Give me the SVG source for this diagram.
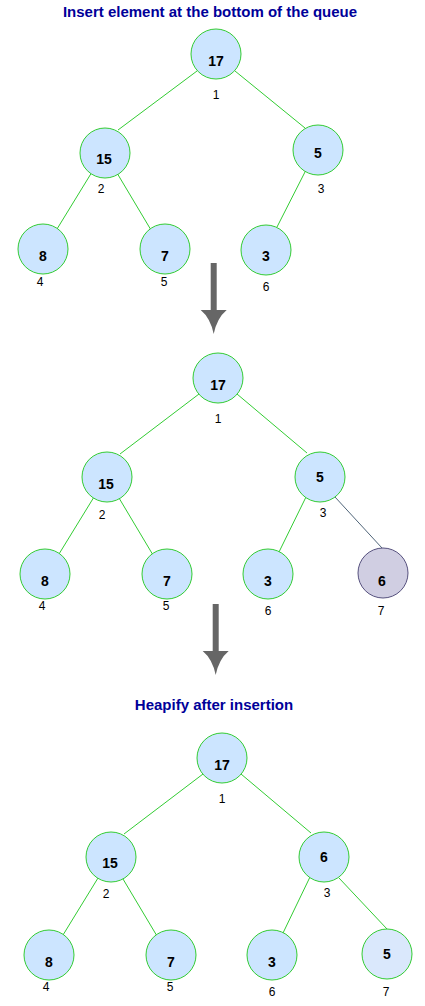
<svg xmlns="http://www.w3.org/2000/svg" width="425" height="1006" viewBox="0 0 425 1006">
<style>
.n{fill:#cce5ff;stroke:#33cc33;stroke-width:1}
.n2{fill:#dae8fc;stroke:#33cc33;stroke-width:1}
.p{fill:#d0cee2;stroke:#56517e;stroke-width:1}
.t{font-family:"Liberation Sans",Arial,sans-serif;font-size:14px;font-weight:bold;fill:#000;text-anchor:middle;dominant-baseline:central}
.l{font-family:"Liberation Sans",Arial,sans-serif;font-size:12px;fill:#000;text-anchor:middle;dominant-baseline:central}
.h{font-family:"Liberation Sans",Arial,sans-serif;font-size:15px;font-weight:bold;fill:#000099;text-anchor:middle;dominant-baseline:central}
.e{stroke:#33cc33;stroke-width:1;fill:none}
.e2{stroke:#4f6478;stroke-width:1;fill:none}
.a{fill:#666666;stroke:none}
</style>
<text class="h" x="210" y="11">Insert element at the bottom of the queue</text>
<text class="h" x="214" y="704">Heapify after insertion</text>
<g id="connectors">
<line class="e" x1="197" y1="71" x2="118" y2="130"/>
<line class="e" x1="235" y1="71" x2="305" y2="128"/>
<line class="e" x1="92" y1="172" x2="57" y2="229"/>
<line class="e" x1="117" y1="173" x2="151" y2="230"/>
<line class="e" x1="306" y1="170" x2="277" y2="227"/>
<line class="e" x1="199" y1="394" x2="120" y2="454"/>
<line class="e" x1="237" y1="394" x2="307" y2="453"/>
<line class="e" x1="94" y1="497" x2="59" y2="554"/>
<line class="e" x1="119" y1="498" x2="153" y2="555"/>
<line class="e" x1="306" y1="497" x2="279" y2="552"/>
<line class="e2" x1="335" y1="497" x2="382" y2="548"/>
<line class="e" x1="203" y1="774" x2="124" y2="834"/>
<line class="e" x1="241" y1="774" x2="311" y2="833"/>
<line class="e" x1="98" y1="878" x2="63" y2="935"/>
<line class="e" x1="123" y1="879" x2="157" y2="936"/>
<line class="e" x1="310" y1="877" x2="283" y2="933"/>
<line class="e" x1="339" y1="878" x2="387" y2="929"/>
</g>
<g id="arrow1"><path class="a" d="M210.7,263 H216.7 V310 L226.7,310 Q217,318 213.7,334 Q210.4,318 200.7,310 L210.7,310 Z"/></g>
<g id="arrow2"><path class="a" d="M212.7,604 H218.7 V651 L228.7,651 Q219,659 215.7,675 Q212.4,659 202.7,651 L212.7,651 Z"/></g>
<g id="t1n17"><circle class="n" cx="216" cy="54" r="25"/><text class="t" x="216" y="61">17</text><text class="l" x="216" y="95">1</text></g>
<g id="t1n15"><circle class="n" cx="105" cy="153" r="25"/><text class="t" x="104" y="159">15</text><text class="l" x="101" y="189">2</text></g>
<g id="t1n5"><circle class="n" cx="318" cy="150" r="25"/><text class="t" x="318" y="153">5</text><text class="l" x="321" y="189">3</text></g>
<g id="t1n8"><circle class="n" cx="43" cy="249" r="25"/><text class="t" x="43" y="256">8</text><text class="l" x="40" y="282">4</text></g>
<g id="t1n7"><circle class="n" cx="165" cy="249" r="25"/><text class="t" x="165" y="256">7</text><text class="l" x="164" y="282">5</text></g>
<g id="t1n3"><circle class="n" cx="266" cy="250" r="25"/><text class="t" x="266" y="256">3</text><text class="l" x="266" y="287">6</text></g>
<g id="t2n17"><circle class="n" cx="218" cy="378" r="25"/><text class="t" x="218" y="385">17</text><text class="l" x="218" y="419">1</text></g>
<g id="t2n15"><circle class="n" cx="107" cy="477" r="25"/><text class="t" x="106" y="484">15</text><text class="l" x="102" y="515">2</text></g>
<g id="t2n5"><circle class="n" cx="320" cy="477" r="25"/><text class="t" x="320" y="477">5</text><text class="l" x="323" y="513">3</text></g>
<g id="t2n8"><circle class="n" cx="45" cy="574" r="25"/><text class="t" x="45" y="581">8</text><text class="l" x="42" y="606">4</text></g>
<g id="t2n7"><circle class="n" cx="167" cy="574" r="25"/><text class="t" x="167" y="581">7</text><text class="l" x="166" y="606">5</text></g>
<g id="t2n3"><circle class="n" cx="268" cy="574" r="25"/><text class="t" x="268" y="581">3</text><text class="l" x="268" y="611">6</text></g>
<g id="t2n6"><circle class="p" cx="383" cy="573" r="25"/><text class="t" x="382" y="581">6</text><text class="l" x="381" y="611">7</text></g>
<g id="t3n17"><circle class="n" cx="222" cy="758" r="25"/><text class="t" x="222" y="765">17</text><text class="l" x="222" y="799">1</text></g>
<g id="t3n15"><circle class="n" cx="111" cy="857" r="25"/><text class="t" x="110" y="863">15</text><text class="l" x="106" y="894">2</text></g>
<g id="t3n6"><circle class="n" cx="324" cy="857" r="25"/><text class="t" x="324" y="857">6</text><text class="l" x="327" y="893">3</text></g>
<g id="t3n8"><circle class="n" cx="49" cy="955" r="25"/><text class="t" x="49" y="962">8</text><text class="l" x="46" y="987">4</text></g>
<g id="t3n7"><circle class="n" cx="171" cy="955" r="25"/><text class="t" x="171" y="962">7</text><text class="l" x="170" y="987">5</text></g>
<g id="t3n3"><circle class="n" cx="272" cy="955" r="25"/><text class="t" x="272" y="962">3</text><text class="l" x="272" y="992">6</text></g>
<g id="t3n5"><circle class="n2" cx="387" cy="954" r="25"/><text class="t" x="387" y="954">5</text><text class="l" x="386" y="992">7</text></g>
</svg>
